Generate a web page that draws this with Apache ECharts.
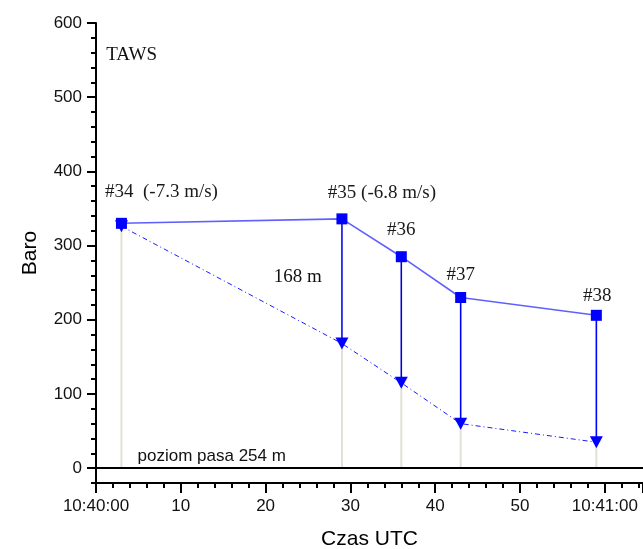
<!DOCTYPE html>
<html>
<head>
<meta charset="utf-8">
<script src="https://cdn.jsdelivr.net/npm/echarts@6/dist/echarts.min.js"></script>
<style>
  html, body { margin: 0; padding: 0; background: #fff; }
  #chart { width: 643px; height: 549px; }
</style>
</head>
<body>
<div id="chart"></div>
<script>
// seconds after 10:40:00
const timeSec = [3, 29, 36, 43, 59];
const baroAlt = [330, 336, 285, 230, 206];
const predAlt = [326, 168, 115, 60, 35];
const pointLabels = ['#34  (-7.3 m/s)', '#35 (-6.8 m/s)', '#36', '#37', '#38'];
const labelOffsets = [[40, -31], [40, -26], [0, -27], [0, -23], [1, -19]];
const yLabelValues = [0, 100, 200, 300, 400, 500, 600];
const notes = [
  { text: 'TAWS', x: 1.2, y: 557, font: 'serif', pos: 'right' },
  { text: '168 m', x: 23.8, y: 258, font: 'serif', pos: 'inside' },
  { text: 'poziom pasa 254 m', x: 4.9, y: 16, font: 'sans', pos: 'right' },
];

const SERIF = '"Liberation Serif", "DejaVu Serif", serif';
const SANS = '"Liberation Sans", Arial, sans-serif';

function tickLabel(v) {
  if (v === 0) return '10:40:00';
  if (v === 60) return '10:41:00';
  return String(v);
}

function vLine(color, width) {
  return function (params, api) {
    const a = api.coord([api.value(0), api.value(1)]);
    const b = api.coord([api.value(0), api.value(2)]);
    return {
      type: 'line',
      shape: { x1: a[0], y1: a[1], x2: b[0], y2: b[1] },
      style: { stroke: color, lineWidth: width },
    };
  };
}

const chart = echarts.init(document.getElementById('chart'), null, { renderer: 'canvas' });

const option = {
  animation: false,
  grid: { left: 96, right: 0, top: 23, bottom: 66, outerBoundsMode: 'none', containLabel: false },
  xAxis: {
    type: 'value',
    min: 0,
    max: 64.5,
    interval: 10,
    name: 'Czas UTC',
    nameLocation: 'middle',
    nameGap: 46,
    nameTextStyle: { fontFamily: SANS, fontSize: 21, color: '#000' },
    axisLine: { onZero: false, lineStyle: { color: '#000', width: 2 } },
    axisTick: { length: 10, lineStyle: { color: '#000', width: 2 } },
    minorTick: { show: true, splitNumber: 5, length: 5, lineStyle: { color: '#000', width: 2 } },
    axisLabel: { formatter: tickLabel, fontFamily: SANS, fontSize: 17, color: '#111', margin: 15, showMaxLabel: false },
    splitLine: { show: false },
  },
  yAxis: [
    {
      type: 'value',
      min: -20,
      max: 600,
      name: 'Baro',
      nameLocation: 'middle',
      nameGap: 55,
      nameTextStyle: { fontFamily: SANS, fontSize: 21, color: '#000' },
      axisLine: { lineStyle: { color: '#000', width: 2 } },
      axisTick: { length: 9, customValues: yLabelValues, lineStyle: { color: '#000', width: 2 } },
      axisLabel: { customValues: yLabelValues, fontFamily: SANS, fontSize: 17, color: '#111', margin: 14 },
      splitLine: { show: false },
    },
    {
      type: 'value',
      min: -20,
      max: 600,
      interval: 20,
      position: 'left',
      axisLine: { show: false },
      axisTick: { length: 5, lineStyle: { color: '#000', width: 2 } },
      axisLabel: { show: false },
      splitLine: { show: false },
    },
  ],
  series: [
    {
      type: 'custom',
      renderItem: vLine('#e3e1d3', 2),
      data: timeSec.map((t, i) => [t, baroAlt[i], 0]),
      silent: true,
      z: 1,
      markLine: {
        silent: true,
        symbol: 'none',
        label: { show: false },
        lineStyle: { color: '#000', width: 2, type: 'solid' },
        data: [{ yAxis: 0 }],
      },
    },
    {
      type: 'line',
      data: timeSec.map((t, i) => [t, predAlt[i]]),
      symbol: 'none',
      lineStyle: { color: '#1a1aff', width: 1, type: [5, 3, 1, 3] },
      z: 2,
    },
    {
      type: 'line',
      data: timeSec.map((t, i) => [t, baroAlt[i]]),
      symbol: 'none',
      lineStyle: { color: '#6060ff', width: 1.6 },
      z: 3,
    },
    {
      type: 'custom',
      renderItem: vLine('#0000ff', 1.5),
      data: timeSec.map((t, i) => [t, baroAlt[i], predAlt[i]]),
      z: 4,
    },
    {
      type: 'scatter',
      data: timeSec.map((t, i) => [t, predAlt[i]]),
      symbol: 'triangle',
      symbolRotate: 180,
      symbolSize: [13, 12],
      itemStyle: { color: '#0000ff', opacity: 1 },
      z: 5,
    },
    {
      type: 'scatter',
      data: timeSec.map((t, i) => ({
        value: [t, baroAlt[i]],
        label: { formatter: pointLabels[i], offset: labelOffsets[i] },
      })),
      symbol: 'rect',
      symbolSize: 11,
      itemStyle: { color: '#0000ff', opacity: 1 },
      label: { show: true, position: 'inside', fontFamily: SERIF, fontSize: 19, color: '#1a1a1a' },
      z: 6,
    },
    {
      type: 'scatter',
      data: notes.map((n) => ({
        value: [n.x, n.y],
        label: {
          formatter: n.text,
          position: n.pos,
          distance: 0,
          fontFamily: n.font === 'serif' ? SERIF : SANS,
          fontSize: n.font === 'serif' ? 19 : 17,
        },
      })),
      symbolSize: 0,
      silent: true,
      itemStyle: { opacity: 1 },
      label: { show: true, color: '#111' },
      z: 7,
    },
  ],
};

chart.setOption(option);
window.addEventListener('resize', () => chart.resize());
</script>
</body>
</html>
